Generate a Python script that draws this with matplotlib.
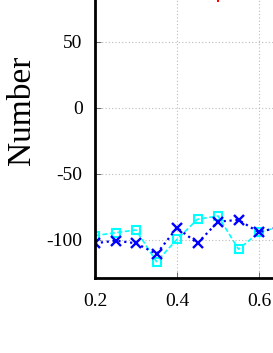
import matplotlib
matplotlib.use("Agg")
import matplotlib.pyplot as plt

plt.rcParams["font.family"] = ["Liberation Serif", "DejaVu Serif"]
plt.rcParams["axes.unicode_minus"] = False

# data
x_vals = [0.20, 0.25, 0.30, 0.35, 0.40, 0.45, 0.50, 0.55, 0.60, 0.65]
cyan_vals = [-96.7, -94.5, -92.4, -116.4, -99.5, -84.3, -81.8, -107.0, -94.2, -90.0]
blue_vals = [-102.5, -100.5, -102.5, -110.6, -90.7, -102.5, -86.1, -84.8, -94.2, -90.0]
red_x = [0.50]
red_vals = [83.0]

y_ticks = [-100, -50, 0, 50]
x_ticks = [0.2, 0.4, 0.6]

W, H = 273, 353
fig = plt.figure(figsize=(W / 100, H / 100), dpi=100)

# axes extend past the right and top edges (the reference is a crop)
left, bottom = 95 / W, 1 - 278 / H
xmin, xmax = 0.2, 1.0
ymin, ymax = -128.8, 150
px_per_x = 82 / 0.2
px_per_y = 66 / 50
ax = fig.add_axes([left, bottom, (xmax - xmin) * px_per_x / W, (ymax - ymin) * px_per_y / H])

ax.plot(x_vals, cyan_vals, color="cyan", linestyle=(0, (3, 1.5)), lw=1.2,
        marker="s", markersize=6, markerfacecolor="none", markeredgewidth=1.5)
ax.plot(x_vals, blue_vals, color="blue", linestyle=":", lw=1.6,
        marker="x", markersize=6.5, markeredgewidth=1.7)
ax.plot(red_x, red_vals, color="red", linestyle="none", marker="+", markersize=6, markeredgewidth=1.5)

ax.set_xlim(xmin, xmax)
ax.set_ylim(ymin, ymax)
ax.set_xticks(x_ticks)
ax.set_yticks(y_ticks)
ax.set_xticklabels([f"{t:.1f}" for t in x_ticks])
ax.tick_params(direction="in", length=4, width=0.6, color="#555555", labelsize=14, pad=9)
ax.tick_params(axis="x", pad=11)
ax.grid(True, linestyle=(0, (1, 2)), color="#bbbbbb", lw=0.8)
for s in ax.spines.values():
    s.set_linewidth(2)

ax.set_ylabel("Number", fontsize=24)
ax.yaxis.set_label_coords(37 / W, 1 - 110 / H, transform=fig.transFigure)

fig.savefig("out.png", dpi=100)
